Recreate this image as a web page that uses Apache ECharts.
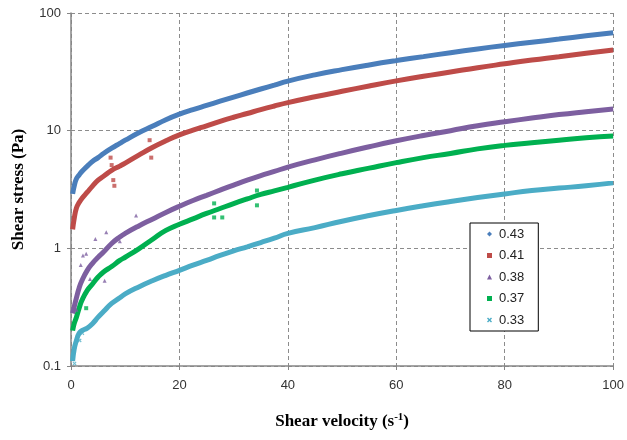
<!DOCTYPE html>
<html>
<head>
<meta charset="utf-8">
<script src="https://cdn.jsdelivr.net/npm/echarts@6/dist/echarts.min.js"></script>
<style>
  html, body { margin: 0; padding: 0; background: #fff; }
  #chart { width: 627px; height: 440px; }
</style>
</head>
<body>
<div id="chart"></div>
<script>
// shear velocity (s-1) where each curve was read
const velocity = [0.3, 0.6, 1, 1.5, 2, 3, 4, 5, 6, 7.5, 9, 10, 12.5, 15, 17.5, 20, 22.5, 25, 27.5, 30,
  32.5, 35, 37.5, 40, 45, 50, 55, 60, 65, 70, 75, 80, 85, 90, 95, 100]

// shear stress (Pa) per concentration
const s043 = [2.9, 3.4, 3.9, 4.2, 4.5, 5.0, 5.5, 5.9, 6.4, 7.1, 7.8, 8.3, 9.6, 10.9, 12.4, 13.8, 15.1, 16.4, 17.8, 19.3,
  20.9, 22.6, 24.4, 26.4, 29.8, 33.0, 36.2, 39.4, 42.6, 46, 49.5, 53, 56.5, 60, 64, 68]
const s041 = [1.45, 1.8, 2.2, 2.45, 2.65, 3.0, 3.4, 3.8, 4.1, 4.6, 5.0, 5.3, 6.2, 7.2, 8.2, 9.2, 10.1, 11.0, 12.0, 13.0,
  14.0, 15.1, 16.2, 17.3, 19.4, 21.6, 24.0, 26.5, 29, 31.5, 34.3, 37, 39.8, 42.5, 45.5, 48.5]
const s038 = [0.28, 0.32, 0.38, 0.46, 0.53, 0.65, 0.75, 0.84, 0.93, 1.1, 1.25, 1.34, 1.55, 1.77, 2.02, 2.28, 2.55, 2.82, 3.12, 3.45,
  3.8, 4.15, 4.5, 4.9, 5.65, 6.45, 7.3, 8.2, 9.1, 10.0, 11.0, 11.9, 12.8, 13.7, 14.5, 15.3]
const s037 = [0.2, 0.23, 0.26, 0.31, 0.36, 0.44, 0.5, 0.57, 0.63, 0.7, 0.79, 0.84, 0.99, 1.19, 1.42, 1.6, 1.78, 1.98, 2.18, 2.4,
  2.63, 2.87, 3.08, 3.3, 3.8, 4.3, 4.8, 5.35, 5.9, 6.4, 7.0, 7.5, 7.9, 8.3, 8.7, 9.0]
const s033 = [0.11, 0.14, 0.165, 0.19, 0.2, 0.21, 0.23, 0.26, 0.29, 0.34, 0.38, 0.41, 0.47, 0.53, 0.59, 0.65, 0.72, 0.79, 0.87, 0.95,
  1.03, 1.12, 1.22, 1.34, 1.5, 1.7, 1.9, 2.1, 2.3, 2.5, 2.7, 2.9, 3.1, 3.25, 3.4, 3.6]

// stray points off the main band: [velocity, stress]
const out041 = [[7.3, 5.9], [7.5, 5.1], [7.8, 3.8], [8, 3.4], [14.5, 8.3], [14.8, 5.9]]
const out038 = [[1, 0.3], [1.8, 0.72], [2.2, 0.87], [2.8, 0.9], [3.5, 0.55], [4.5, 1.2], [6.2, 0.53], [6.5, 1.37], [9, 1.15], [12, 1.9]]
const out037 = [[2.8, 0.31], [26.4, 2.41], [26.4, 1.83], [27.9, 1.83], [34.3, 3.1], [34.3, 2.32]]
const out033 = [[0.65, 0.105], [0.65, 0.144], [1.6, 0.165], [2.1, 0.19]]

const names = ['0.43', '0.41', '0.38', '0.37', '0.33']
const colors = ['#4a7ebb', '#be4b48', '#7d5fa0', '#00b050', '#4bacc6']
const icons = ['diamond', 'rect', 'triangle', 'rect',
  'path://M2,0L5,3L8,0L10,2L7,5L10,8L8,10L5,7L2,10L0,8L3,5L0,2Z']

const bands = [s043, s041, s038, s037, s033]
const strays = [[], out041, out038, out037, out033]

const series = []
bands.forEach((vals, i) => {
  series.push({
    name: names[i],
    type: 'line',
    smooth: true,
    showSymbol: false,
    data: velocity.map((x, j) => [x, vals[j]]),
    lineStyle: { color: colors[i], width: 5 },
    itemStyle: { color: colors[i] },
    z: 5 - i,
  })
  if (strays[i].length) {
    series.push({
      name: names[i],
      type: 'scatter',
      symbol: icons[i],
      symbolSize: 4,
      data: strays[i],
      itemStyle: { color: colors[i] },
    })
  }
})

const chart = echarts.init(document.getElementById('chart'))
chart.setOption({
  animation: false,
  backgroundColor: '#fff',
  grid: { left: 71, right: 12, top: 13, bottom: 74 },
  xAxis: {
    type: 'value',
    min: 0,
    max: 100,
    interval: 20,
    name: 'Shear velocity (s{sup|-1})',
    nameLocation: 'middle',
    nameGap: 46,
    nameTextStyle: {
      fontFamily: 'Liberation Serif',
      fontWeight: 'bold',
      fontSize: 17,
      color: '#000',
      rich: { sup: { fontFamily: 'Liberation Serif', fontWeight: 'bold', fontSize: 11, verticalAlign: 'top', padding: [0, 0, 8, 0] } },
    },
    axisLine: { lineStyle: { color: '#868686', width: 1.5 } },
    axisTick: { show: true, length: 4, lineStyle: { color: '#868686' } },
    axisLabel: { color: '#333', fontSize: 13, fontFamily: 'Liberation Sans', margin: 13 },
    splitLine: { show: true, lineStyle: { color: '#8c8c8c', type: [4, 3] } },
  },
  yAxis: {
    type: 'log',
    logBase: 10,
    min: 0.1,
    max: 100,
    name: 'Shear stress (Pa)',
    nameLocation: 'middle',
    nameGap: 44,
    nameTextStyle: { fontFamily: 'Liberation Serif', fontWeight: 'bold', fontSize: 17, color: '#000' },
    axisLine: { show: true, lineStyle: { color: '#868686', width: 1.5 } },
    axisTick: { show: true, length: 4, lineStyle: { color: '#868686' } },
    axisLabel: { color: '#333', fontSize: 13, fontFamily: 'Liberation Sans', margin: 10, formatter: (v) => String(v) },
    splitLine: { show: true, lineStyle: { color: '#8c8c8c', type: [4, 3] } },
    minorTick: { show: false },
  },
  legend: {
    orient: 'vertical',
    left: 470,
    top: 223,
    padding: [4, 14, 4, 17],
    itemGap: 7.5,
    itemWidth: 5,
    itemHeight: 5,
    backgroundColor: '#fff',
    borderColor: '#000',
    borderWidth: 1,
    data: names.map((n, i) => ({ name: n, icon: icons[i], itemStyle: { color: colors[i] } })),
    textStyle: { fontSize: 13, fontFamily: 'Liberation Sans', color: '#222', lineHeight: 14, padding: [0, 0, 0, 2] },
  },
  series,
})
</script>
</body>
</html>
